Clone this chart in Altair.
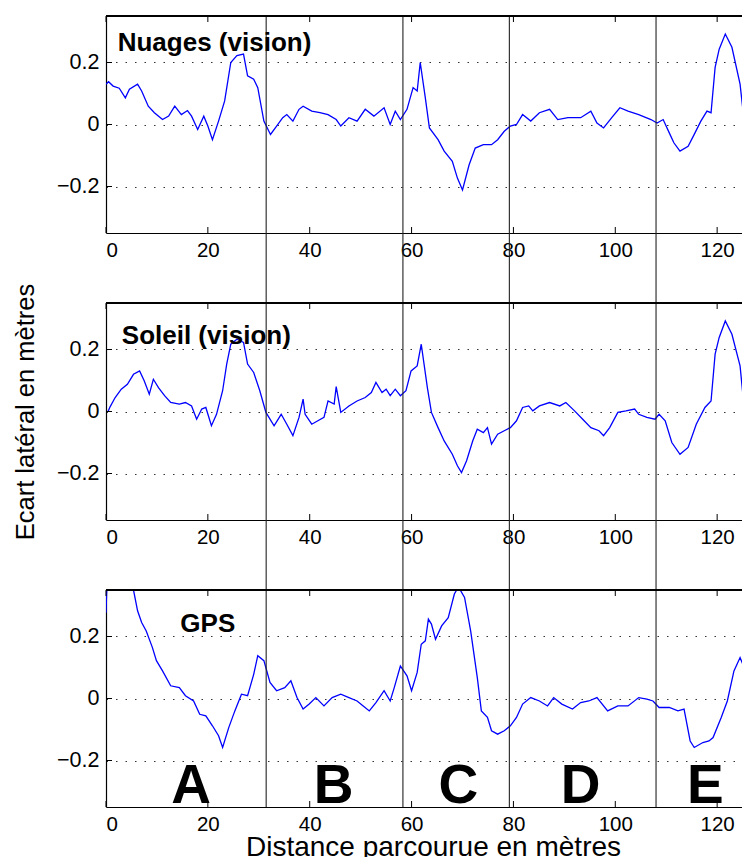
import altair as alt
import pandas as pd

# ---------------- data ----------------
x_ticks = [0, 20, 40, 60, 80, 100, 120]
y_ticks = [-0.2, 0, 0.2]
separators = [31.45, 58.3, 79.2, 108.0]

nuages_d = [0, 0.5, 1.4, 2.6, 3.8, 4.6, 6.2, 7.0, 8.3, 9.5, 11.1, 12.3, 13.5, 14.8, 16.0, 16.8,
            18.0, 19.2, 20.0, 20.9, 22.1, 23.3, 24.5, 25.7, 27.0, 27.8, 29.0, 29.8, 31.0, 32.3,
            33.5, 34.7, 35.5, 36.7, 37.9, 38.7, 40.4, 42.0, 43.6, 45.2, 46.1, 47.7, 49.3, 50.9,
            52.6, 54.6, 55.8, 56.8, 57.8, 59.1, 60.3, 61.1, 61.7, 62.7, 63.5, 65.2, 66.4, 68.0,
            69.0, 70.0, 71.3, 72.5, 74.1, 75.7, 76.9, 78.2, 79.4, 80.6, 81.8, 83.4, 85.1, 87.1,
            88.7, 90.7, 93.2, 95.2, 96.4, 97.7, 99.3, 100.9, 102.5, 104.6, 107.0, 108.2, 109.4,
            110.6, 111.5, 112.7, 114.3, 115.5, 116.8, 118.0, 118.8, 119.6, 120.4, 121.6, 122.9,
            124.5, 125.3, 126.1, 126.5]
nuages_v = [0.13, 0.138, 0.124, 0.117, 0.086, 0.114, 0.13, 0.108, 0.059, 0.038, 0.016, 0.027,
            0.059, 0.032, 0.045, 0.027, -0.016, 0.027, -0.005, -0.049, 0.011, 0.076, 0.20, 0.222,
            0.227, 0.157, 0.146, 0.119, 0.011, -0.032, -0.005, 0.022, 0.032, 0.011, 0.049, 0.059,
            0.043, 0.038, 0.032, 0.016, -0.005, 0.022, 0.011, 0.049, 0.027, 0.054, 0.0, 0.043,
            0.016, 0.049, 0.119, 0.108, 0.20, 0.086, -0.011, -0.049, -0.086, -0.119, -0.173,
            -0.211, -0.13, -0.076, -0.065, -0.065, -0.049, -0.022, -0.005, 0.0, 0.032, 0.011,
            0.038, 0.049, 0.016, 0.022, 0.022, 0.043, 0.005, -0.011, 0.022, 0.054, 0.043, 0.032,
            0.016, 0.005, 0.016, -0.027, -0.059, -0.086, -0.07, -0.032, 0.011, 0.043, 0.038,
            0.184, 0.243, 0.292, 0.249, 0.13, 0.011, -0.14, -0.17]

soleil_d = [0.4, 0.8, 1.8, 3.0, 4.2, 5.4, 6.6, 7.5, 8.5, 9.3, 10.3, 11.5, 12.7, 14.4, 15.6, 16.8,
            17.8, 18.8, 19.6, 20.7, 21.7, 22.9, 23.7, 24.5, 25.7, 27.0, 27.8, 29.0, 30.2, 31.4,
            33.0, 34.4, 35.5, 36.7, 37.9, 38.7, 39.1, 40.4, 41.6, 42.8, 43.6, 44.8, 45.2, 46.1,
            47.7, 49.3, 50.9, 52.1, 53.0, 54.2, 55.0, 55.8, 56.8, 57.8, 58.9, 59.9, 61.1, 61.9,
            63.1, 63.9, 65.2, 66.4, 68.0, 69.0, 69.8, 70.8, 72.0, 72.9, 74.1, 74.9, 75.7, 76.9,
            78.2, 79.4, 80.6, 81.8, 83.0, 83.8, 85.1, 87.1, 89.1, 90.3, 92.0, 93.6, 95.2, 96.8,
            97.7, 98.9, 100.5, 102.1, 103.8, 104.6, 106.2, 107.8, 108.6, 109.8, 111.1, 112.7,
            114.3, 115.9, 117.6, 118.8, 119.6, 120.4, 121.6, 122.9, 124.5, 125.3, 126.1, 126.5]
soleil_v = [0.0, 0.015, 0.045, 0.072, 0.088, 0.12, 0.131, 0.099, 0.056, 0.104, 0.077, 0.051,
            0.029, 0.024, 0.029, 0.018, -0.025, 0.008, 0.013, -0.046, -0.009, 0.067, 0.153, 0.217,
            0.233, 0.223, 0.153, 0.126, 0.067, -0.003, -0.046, -0.009, -0.041, -0.078, -0.019,
            0.04, -0.009, -0.041, -0.03, -0.019, 0.034, 0.024, 0.08, -0.003, 0.018, 0.034, 0.045,
            0.061, 0.094, 0.061, 0.072, 0.051, 0.072, 0.051, 0.067, 0.131, 0.147, 0.217, 0.077,
            -0.003, -0.052, -0.095, -0.138, -0.175, -0.197, -0.159, -0.095, -0.057, -0.068,
            -0.052, -0.105, -0.073, -0.062, -0.052, -0.03, 0.013, 0.018, 0.002, 0.018, 0.029,
            0.018, 0.029, 0.002, -0.025, -0.052, -0.062, -0.078, -0.052, -0.003, 0.002, 0.008,
            -0.009, -0.019, -0.025, -0.009, -0.03, -0.1, -0.138, -0.116, -0.041, 0.013, 0.034,
            0.185, 0.239, 0.292, 0.249, 0.147, 0.013, -0.148, -0.18]

gps_d = [0, 0.15, 1.5, 3.5, 5.4, 6.2, 7.0, 7.9, 9.1, 9.9, 11.1, 12.7, 14.4, 15.6, 17.2, 18.4,
         19.6, 20.9, 22.1, 22.9, 24.1, 25.3, 26.6, 27.8, 29.0, 29.8, 31.0, 32.2, 33.5, 35.1,
         36.3, 37.5, 38.7, 39.9, 41.2, 42.8, 44.4, 46.1, 47.7, 49.3, 50.5, 51.7, 53.0, 54.6,
         55.8, 56.6, 57.8, 59.1, 60.0, 61.1, 61.9, 62.7, 63.3, 63.9, 64.7, 65.9, 67.2, 68.4,
         69.2, 70.4, 71.6, 72.9, 73.7, 74.9, 75.7, 76.9, 78.2, 79.4, 80.6, 81.8, 83.4, 85.1,
         86.7, 87.9, 89.5, 91.6, 93.2, 94.8, 96.4, 98.5, 100.5, 102.5, 104.6, 106.2, 107.4,
         108.6, 110.6, 112.3, 113.5, 114.7, 115.5, 117.2, 118.4, 119.2, 120.8, 122.0, 123.3,
         124.5, 125.3, 126.1, 126.5]
gps_v = [0.277, 0.35, 0.45, 0.43, 0.35, 0.283, 0.245, 0.218, 0.165, 0.122, 0.089, 0.041, 0.035,
         0.009, -0.008, -0.051, -0.056, -0.088, -0.12, -0.158, -0.094, -0.04, 0.014, 0.009,
         0.078, 0.138, 0.122, 0.052, 0.025, 0.035, 0.057, 0.003, -0.034, -0.018, 0.003, -0.024,
         0.003, 0.014, 0.003, -0.008, -0.024, -0.04, -0.013, 0.025, -0.008, 0.035, 0.105, 0.073,
         0.025, 0.084, 0.175, 0.186, 0.256, 0.24, 0.191, 0.234, 0.261, 0.337, 0.36, 0.326,
         0.218, 0.068, -0.04, -0.061, -0.104, -0.115, -0.104, -0.088, -0.061, -0.018, 0.003,
         -0.008, -0.024, 0.003, -0.018, -0.034, -0.013, -0.008, 0.003, -0.04, -0.024, -0.024,
         0.003, -0.002, -0.008, -0.029, -0.029, -0.04, -0.034, -0.137, -0.158, -0.142, -0.137,
         -0.126, -0.061, -0.008, 0.089, 0.132, 0.1, 0.105, 0.095]

panel_titles = ["Nuages (vision)", "Soleil (vision)", "GPS"]
panel_title_d = [2.3, 3.1, 14.6]
panel_title_v = [0.236, 0.217, 0.215]

letters = ["A", "B", "C", "D", "E"]
letters_d = [16.7, 44.7, 69.2, 93.2, 117.7]
letters_v = [-0.336, -0.336, -0.336, -0.336, -0.336]

# ---------------- layout ----------------
W, H, GAP = 644, 217, 70
XMAX = 126.45
FONT = "Liberation Sans"
BLUE = "#0000ff"

xscale = alt.Scale(domain=[0, XMAX], nice=False, zero=False)
yscale = alt.Scale(domain=[-0.35, 0.35], nice=False, zero=False)

tick_x_df = pd.DataFrame({"d": x_ticks})
tick_y_df = pd.DataFrame({"v": y_ticks})
sep_df = pd.DataFrame({"d": separators})


def panel(d, v, title, td, tv, rule_len, first_y_title=False, x_title=False, letters_layer=False):
    df = pd.DataFrame({"d": d, "v": v})
    xaxis_kw = dict(values=x_ticks, ticks=False, grid=False, labelFontSize=20.5, labelPadding=7,
                    labelColor="black", domainColor="black", domainWidth=1.2, labelFont=FONT)
    if x_title:
        xaxis_kw.update(title="Distance parcourue en mètres", titleFontSize=28, titleFont=FONT,
                        titleFontWeight="normal", titleColor="black", titleX=327, titleY=48,
                        titleBaseline="alphabetic", titleAlign="center")
    else:
        xaxis_kw.update(title=None)
    yaxis_kw = dict(values=y_ticks, ticks=False, grid=True, gridDash=[1.5, 8], gridColor="#333",
                    gridWidth=1.2, format="~g", labelFontSize=21.5, labelPadding=7,
                    labelColor="black", domainColor="black", domainWidth=1.2, labelFont=FONT)
    if first_y_title:
        yaxis_kw.update(title="Ecart latéral en mètres", titleFontSize=25.5, titleFont=FONT,
                        titleFontWeight="normal", titleColor="black", titleAngle=270,
                        titleX=-81, titleY=H / 2, titleAlign="center", titleBaseline="middle")
    else:
        yaxis_kw.update(title=None)

    xs = alt.X("d:Q", scale=xscale, axis=alt.Axis(**xaxis_kw))
    ys = alt.Y("v:Q", scale=yscale, axis=alt.Axis(**yaxis_kw))
    xo = alt.X("d:Q", scale=xscale)
    yo = alt.Y("v:Q", scale=yscale)

    line = alt.Chart(df).mark_line(color=BLUE, strokeWidth=1.3, clip=True).encode(x=xs, y=ys)
    seps = alt.Chart(sep_df).mark_rule(color="#222", strokeWidth=1.1).encode(
        x=xo, y=alt.value(0), y2=alt.value(rule_len))
    bt = alt.Chart(tick_x_df).mark_rule(color="black", strokeWidth=1).encode(
        x=xo, y=alt.value(H), y2=alt.value(H - 6))
    tt = alt.Chart(tick_x_df).mark_rule(color="black", strokeWidth=1).encode(
        x=xo, y=alt.value(0), y2=alt.value(6))
    lt = alt.Chart(tick_y_df).mark_rule(color="black", strokeWidth=1).encode(
        y=yo, x=alt.value(0), x2=alt.value(6))
    top = alt.Chart(tick_x_df).mark_rule(color="black", strokeWidth=1.2).encode(
        x=alt.value(0), x2=alt.value(W), y=alt.value(0))
    tdf = pd.DataFrame({"t": [title], "d": [td], "v": [tv]})
    ttl = alt.Chart(tdf).mark_text(font=FONT, fontSize=26, fontWeight="bold", align="left",
                                   baseline="alphabetic", color="black").encode(
        x=xo, y=yo, text="t:N")
    layers = [line, seps, bt, tt, lt, top, ttl]
    if letters_layer:
        ldf = pd.DataFrame({"t": letters, "d": letters_d, "v": letters_v})
        lt2 = alt.Chart(ldf).mark_text(font=FONT, fontSize=55, fontWeight="bold", align="center",
                                       baseline="alphabetic", color="black").encode(
            x=xo, y=yo, text="t:N")
        layers.append(lt2)
    return alt.layer(*layers).properties(width=W, height=H)


p1 = panel(nuages_d, nuages_v, panel_titles[0], panel_title_d[0], panel_title_v[0], H + GAP)
p2 = panel(soleil_d, soleil_v, panel_titles[1], panel_title_d[1], panel_title_v[1], H + GAP,
           first_y_title=True)
p3 = panel(gps_d, gps_v, panel_titles[2], panel_title_d[2], panel_title_v[2], H,
           x_title=True, letters_layer=True)

chart = alt.vconcat(p1, p2, p3, spacing=GAP, bounds="flush").properties(
    padding={"left": 4, "top": 7, "right": -9, "bottom": -4},
    background="white",
).configure_view(stroke=None)

chart.save("out.html", embed_options={"renderer": "svg", "actions": False})
